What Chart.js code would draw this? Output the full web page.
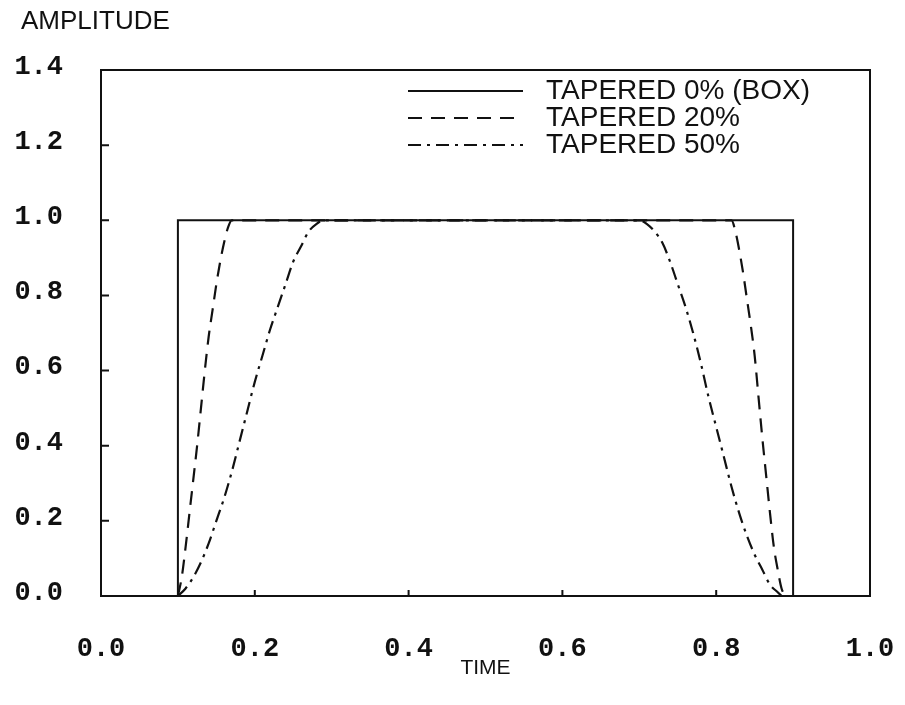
<!DOCTYPE html>
<html>
<head>
<meta charset="utf-8">
<script src="https://cdn.jsdelivr.net/npm/chart.js@4.4.1/dist/chart.umd.min.js"></script>
<style>
  html, body { margin: 0; padding: 0; background: #fff; }
  #wrap { width: 905px; height: 705px; }
</style>
</head>
<body>
<div id="wrap"><canvas id="taperCanvas" width="905" height="705"></canvas></div>
<script>
// tapered windows
const seriesLabels = ['TAPERED 0% (BOX)', 'TAPERED 20%', 'TAPERED 50%'];

const boxX = [0.1, 0.1, 0.9, 0.9];
const boxY = [0, 1, 1, 0];

const tap20X = [0.100, 0.105, 0.110, 0.115, 0.120, 0.125, 0.130, 0.135, 0.140, 0.145, 0.150, 0.155, 0.160, 0.165, 0.170,
                0.820, 0.825, 0.830, 0.835, 0.840, 0.845, 0.850, 0.855, 0.860, 0.865, 0.870, 0.875, 0.880, 0.885, 0.890];
const tap20Y = [0, 0.05, 0.13, 0.22, 0.31, 0.40, 0.50, 0.60, 0.69, 0.76, 0.83, 0.89, 0.94, 0.98, 1.0,
                1.0, 0.97, 0.92, 0.86, 0.79, 0.72, 0.64, 0.53, 0.42, 0.32, 0.22, 0.13, 0.07, 0.02, 0];

const tap50X = [0.10, 0.11, 0.12, 0.13, 0.14, 0.15, 0.16, 0.17, 0.18, 0.19, 0.20, 0.21, 0.22, 0.23, 0.24, 0.25, 0.26, 0.27, 0.28, 0.29,
                0.70, 0.71, 0.72, 0.73, 0.74, 0.75, 0.76, 0.77, 0.78, 0.79, 0.80, 0.81, 0.82, 0.83, 0.84, 0.85, 0.86, 0.87, 0.88, 0.885];
const tap50Y = [0, 0.02, 0.05, 0.09, 0.14, 0.20, 0.26, 0.33, 0.41, 0.49, 0.57, 0.64, 0.71, 0.77, 0.83, 0.89, 0.93, 0.97, 0.99, 1.0,
                1.0, 0.99, 0.97, 0.94, 0.89, 0.83, 0.77, 0.70, 0.62, 0.53, 0.45, 0.37, 0.29, 0.22, 0.16, 0.11, 0.07, 0.03, 0.01, 0];

const xTicks = [0, 0.2, 0.4, 0.6, 0.8, 1.0];
const yTicks = [0, 0.2, 0.4, 0.6, 0.8, 1.0, 1.2, 1.4];

const INK = '#111';
const TICK_FONT = { family: "'Liberation Mono', 'Courier New', monospace", size: 27, weight: 'bold' };

function toPoints(xs, ys) {
    return xs.map((x, i) => ({ x: x, y: ys[i] }));
}

// frame, inward tick marks, axis caption and the in-plot legend
const decoPlugin = {
    id: 'deco',
    beforeDraw(chart) {
        const ctx = chart.ctx;
        ctx.save();
        ctx.fillStyle = '#fff';
        ctx.fillRect(0, 0, chart.width, chart.height);
        ctx.restore();
    },
    afterDatasetsDraw(chart) {
        const { ctx, chartArea: a, scales } = chart;
        ctx.save();
        ctx.strokeStyle = INK;
        ctx.lineWidth = 2;
        ctx.setLineDash([]);
        ctx.strokeRect(a.left, a.top, a.right - a.left, a.bottom - a.top);
        ctx.beginPath();
        yTicks.forEach(v => {
            const py = scales.y.getPixelForValue(v);
            ctx.moveTo(a.left, py);
            ctx.lineTo(a.left + 8, py);
        });
        xTicks.forEach(v => {
            const px = scales.x.getPixelForValue(v);
            ctx.moveTo(px, a.bottom);
            ctx.lineTo(px, a.bottom - 6);
        });
        ctx.stroke();
        ctx.restore();
    },
    afterDraw(chart) {
        const ctx = chart.ctx;
        ctx.save();
        ctx.fillStyle = INK;
        ctx.textBaseline = 'middle';
        ctx.textAlign = 'left';
        ctx.font = "26px 'Liberation Sans', Arial, sans-serif";
        ctx.fillText('AMPLITUDE', 21, 22);

        // legend
        ctx.font = "28px 'Liberation Sans', Arial, sans-serif";
        const rowY = [91, 118, 145];
        chart.data.datasets.forEach((ds, i) => {
            ctx.strokeStyle = ds.borderColor;
            ctx.lineWidth = 2;
            ctx.setLineDash(ds.borderDash || []);
            ctx.beginPath();
            ctx.moveTo(408, rowY[i]);
            ctx.lineTo(523, rowY[i]);
            ctx.stroke();
            ctx.setLineDash([]);
            ctx.fillText(ds.label, 546, rowY[i]);
        });
        ctx.restore();
    }
};

const chart = new Chart(document.getElementById('taperCanvas').getContext('2d'), {
    type: 'line',
    data: {
        datasets: [
            { label: seriesLabels[0], data: toPoints(boxX, boxY), borderColor: INK, borderWidth: 2, pointRadius: 0, tension: 0, fill: false },
            { label: seriesLabels[1], data: toPoints(tap20X, tap20Y), borderColor: INK, borderWidth: 2.2, borderDash: [14, 9], pointRadius: 0, cubicInterpolationMode: 'monotone', fill: false },
            { label: seriesLabels[2], data: toPoints(tap50X, tap50Y), borderColor: INK, borderWidth: 2.2, borderDash: [13, 6, 3, 6], pointRadius: 0, cubicInterpolationMode: 'monotone', fill: false }
        ]
    },
    options: {
        responsive: false,
        animation: false,
        layout: { padding: { left: 0, top: 70, right: 35, bottom: 0 } },
        scales: {
            x: {
                type: 'linear',
                min: 0,
                max: 1,
                grid: { display: false },
                border: { display: false },
                afterBuildTicks: s => { s.ticks = xTicks.map(v => ({ value: v })); },
                afterFit: s => { s.height = 109; s.paddingLeft = 0; s.paddingRight = 0; },
                ticks: {
                    color: INK,
                    font: TICK_FONT,
                    padding: 29,
                    maxRotation: 0,
                    callback: v => v.toFixed(1)
                },
                title: {
                    display: true,
                    text: 'TIME',
                    color: INK,
                    font: { family: "'Liberation Sans', Arial, sans-serif", size: 21 },
                    padding: { top: 0, bottom: 24 }
                }
            },
            y: {
                min: 0,
                max: 1.4,
                grid: { display: false },
                border: { display: false },
                afterBuildTicks: s => { s.ticks = yTicks.map(v => ({ value: v })); },
                afterFit: s => { s.width = 101; s.paddingTop = 0; s.paddingBottom = 0; },
                ticks: {
                    color: INK,
                    font: TICK_FONT,
                    padding: 30,
                    labelOffset: -3,
                    callback: v => v.toFixed(1)
                }
            }
        },
        plugins: {
            legend: { display: false },
            tooltip: { enabled: false }
        }
    },
    plugins: [decoPlugin]
});
</script>
</body>
</html>
